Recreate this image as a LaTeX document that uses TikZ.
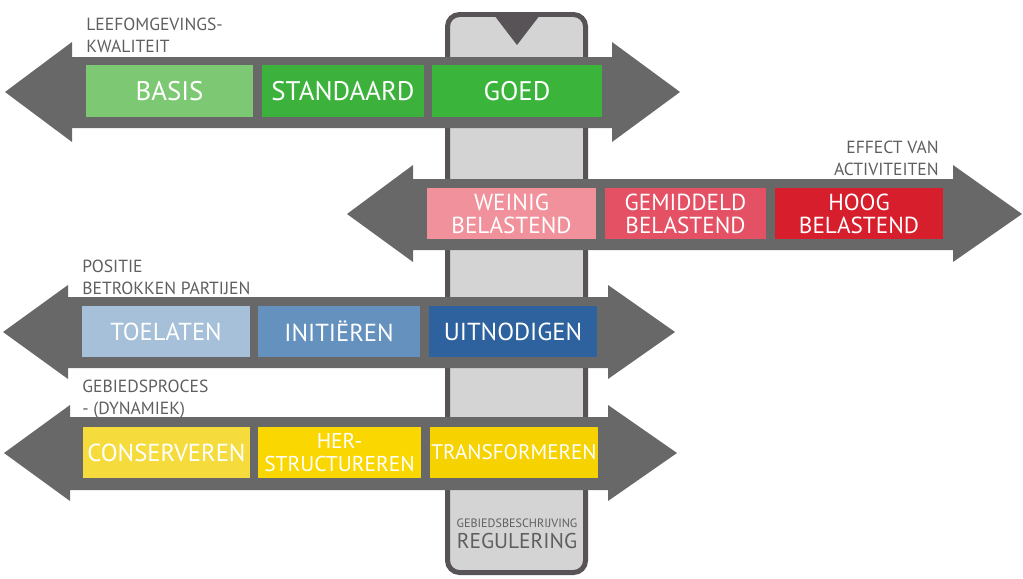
\documentclass[tikz,border=0pt]{standalone}
\usepackage{fontspec}
\setmainfont{PT Sans}
\usetikzlibrary{positioning}
\definecolor{arrowgray}{RGB}{104,104,104}
\definecolor{barfill}{RGB}{212,212,212}
\definecolor{barline}{RGB}{88,83,86}
\definecolor{labelgray}{RGB}{95,95,95}
\definecolor{basis}{RGB}{125,200,115}
\definecolor{standaard}{RGB}{60,178,60}
\definecolor{goed}{RGB}{58,180,58}
\definecolor{weinig}{RGB}{240,145,155}
\definecolor{gemiddeld}{RGB}{228,80,100}
\definecolor{hoog}{RGB}{215,30,45}
\definecolor{toelaten}{RGB}{165,192,216}
\definecolor{initieren}{RGB}{100,145,190}
\definecolor{uitnodigen}{RGB}{45,98,158}
\definecolor{conserveren}{RGB}{245,220,60}
\definecolor{herstruct}{RGB}{250,215,0}
\definecolor{transform}{RGB}{245,210,0}
\tikzset{
  band/.style   ={fill=arrowgray},
  cell/.style   ={inner sep=0pt, text=white, align=center,
                  font=\fontsize{14}{15}\selectfont},
  bigcell/.style={font=\fontsize{15.3}{16}\selectfont},
  twoline/.style={font=\fontsize{13.2}{13}\selectfont},
  caption/.style={inner sep=0pt, text=labelgray,
                  font=\fontsize{10}{12.5}\selectfont},
}

\begin{document}
\begin{tikzpicture}[x=0.02cm,y=-0.02cm]
  \useasboundingbox (0,0) rectangle (1023,578);

  % the slider behind the arrows
  \filldraw[fill=barfill, draw=barline, line width=0.1cm, rounded corners=0.24cm]
    (447.5,14.5) rectangle (585.5,572.5);
  \fill[barline] (494,15) -- (540,15) -- (517,45) -- cycle;
  \node[text=labelgray, inner sep=0pt, font=\fontsize{6.9}{7}\selectfont]
    (beschrijving) at (517,523) {GEBIEDSBESCHRIJVING};
  \node[text=labelgray, inner sep=0pt, font=\fontsize{12.2}{13}\selectfont,
    below=3pt of beschrijving] (regulering) {REGULERING};

  % leefomgevingskwaliteit
  \fill[band] (5,92) -- (72,42) -- (72,57) -- (612,57) -- (612,42) -- (680,92)
    -- (612,142) -- (612,128) -- (72,128) -- (72,142) -- cycle;
  \node[caption, anchor=north west, align=left] (kwaliteit) at (86,18)
    {LEEFOMGEVINGS-\\KWALITEIT};
  \node[cell, bigcell, fill=basis, minimum width=3.34cm, minimum height=1.04cm]
    (basis) at (169.5,91) {BASIS};
  \node[cell, bigcell, fill=standaard, minimum width=3.24cm, minimum height=1.04cm]
    (standaard) at (343,91) {STANDAARD};
  \node[cell, bigcell, fill=goed, minimum width=3.40cm, minimum height=1.04cm]
    (goed) at (517,91) {GOED};

  % effect van activiteiten
  \fill[band] (347,214) -- (413,165) -- (413,179) -- (953,179) -- (953,165) -- (1022,214)
    -- (953,262) -- (953,250) -- (413,250) -- (413,262) -- cycle;
  \node[caption, anchor=north east, align=right] (effect) at (939,141)
    {EFFECT VAN\\ACTIVITEITEN};
  \node[cell, twoline, fill=weinig, minimum width=3.38cm, minimum height=1.02cm]
    (weinig) at (511.5,213.5) {WEINIG\\BELASTEND};
  \node[cell, twoline, fill=gemiddeld, minimum width=3.22cm, minimum height=1.02cm]
    (gemiddeld) at (685.5,213.5) {GEMIDDELD\\BELASTEND};
  \node[cell, twoline, fill=hoog, minimum width=3.36cm, minimum height=1.02cm]
    (hoog) at (859,213.5) {HOOG\\BELASTEND};

  % positie betrokken partijen
  \fill[band] (3,332) -- (68,285) -- (68,297) -- (608,297) -- (608,285) -- (675,332)
    -- (608,379) -- (608,368) -- (68,368) -- (68,379) -- cycle;
  \node[caption, anchor=north west, align=left] (positie) at (82,260)
    {POSITIE\\BETROKKEN PARTIJEN};
  \node[cell, fill=toelaten, minimum width=3.36cm, minimum height=1.02cm]
    (toelaten) at (166,331.5) {TOELATEN};
  \node[cell, fill=initieren, minimum width=3.24cm, minimum height=1.02cm]
    (initieren) at (339,331.5) {INITIËREN};
  \node[cell, fill=uitnodigen, minimum width=3.36cm, minimum height=1.02cm]
    (uitnodigen) at (513,331.5) {UITNODIGEN};

  % gebiedsproces
  \fill[band] (4,453) -- (70,405) -- (70,417) -- (608,417) -- (608,405) -- (677,453)
    -- (608,501) -- (608,490) -- (70,490) -- (70,501) -- cycle;
  \node[caption, anchor=north west, align=left] (proces) at (82,380)
    {GEBIEDSPROCES\\- (DYNAMIEK)};
  \node[cell, fill=conserveren, minimum width=3.34cm, minimum height=1.02cm]
    (conserveren) at (166.5,452.5) {CONSERVEREN};
  \node[cell, font=\fontsize{12.2}{13}\selectfont, fill=herstruct,
    minimum width=3.26cm, minimum height=1.02cm]
    (herstructureren) at (339.5,452.5) {HER-\\STRUCTUREREN};
  \node[cell, font=\fontsize{12}{13}\selectfont, fill=transform,
    minimum width=3.36cm, minimum height=1.02cm]
    (transformeren) at (514,452.5) {TRANSFORMEREN};
\end{tikzpicture}
\end{document}
